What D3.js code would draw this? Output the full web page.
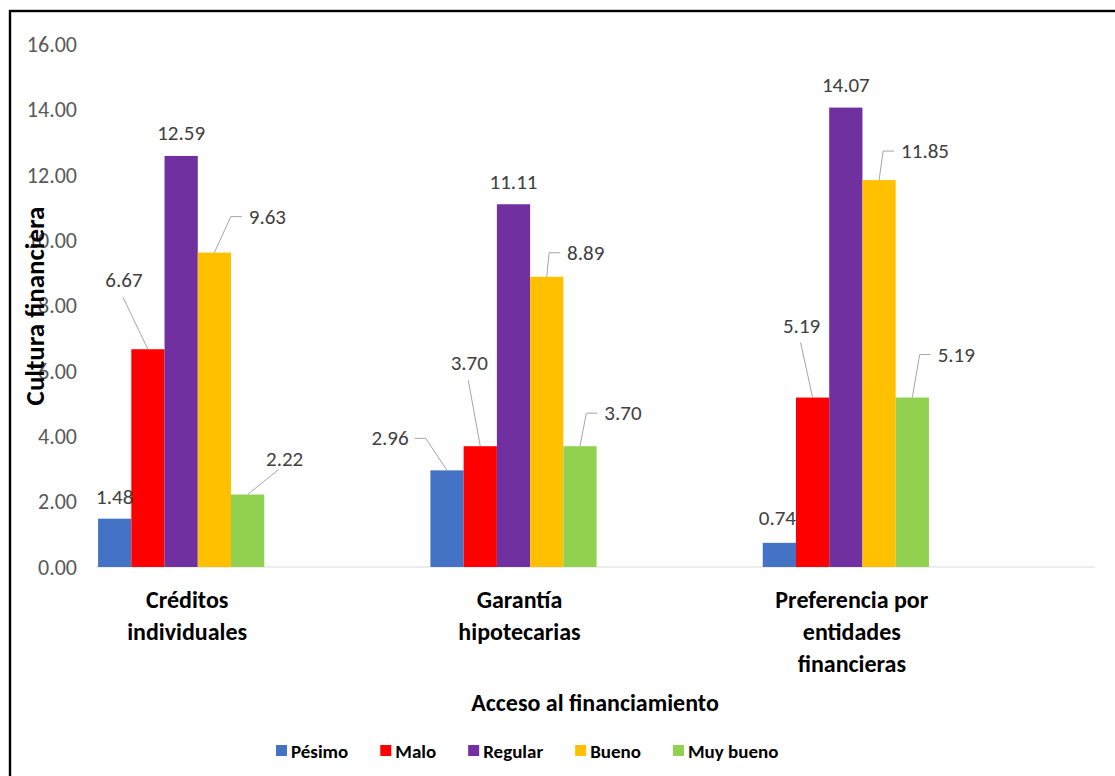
<!DOCTYPE html>
<html>
<head>
<meta charset="utf-8">
<script src="https://cdn.jsdelivr.net/npm/d3@7"></script>
<style>
  html, body { margin: 0; padding: 0; background: #fff; }
  svg { display: block; }
  text { font-family: Carlito, Calibri, "Open Sans", "Noto Sans", sans-serif; }
</style>
</head>
<body>
<svg id="chart" width="1115" height="776"></svg>
<script>
// ---- data ----
const categories = [["Créditos", "individuales"], ["Garantía", "hipotecarias"], ["Preferencia por", "entidades", "financieras"]];
const seriesNames = ["Pésimo", "Malo", "Regular", "Bueno", "Muy bueno"];
const pesimo   = [1.48, 2.96, 0.74];
const malo     = [6.67, 3.70, 5.19];
const regular  = [12.59, 11.11, 14.07];
const bueno    = [9.63, 8.89, 11.85];
const muyBueno = [2.22, 3.70, 5.19];
const yTicks = [0, 2, 4, 6, 8, 10, 12, 14, 16];
const yTitle = "Cultura financiera";
const xTitle = "Acceso al financiamiento";

// ---- style ----
const colors = ["#4472C4", "#FF0000", "#7030A0", "#FFC000", "#92D050"];
// label placement per [category][series]: dx, dy from bar-top centre, leader type
const labelLayout = [
  [{dx:0,dy:-22,t:"none"},{dx:-24,dy:-69,t:"down"},{dx:0,dy:-23,t:"none"},{dx:53,dy:-36,t:"elbowL"},{dx:37,dy:-36,t:"diag"}],
  [{dx:-57,dy:-32,t:"elbowR"},{dx:-11,dy:-83,t:"down"},{dx:0,dy:-22,t:"none"},{dx:39,dy:-24,t:"elbowL"},{dx:43,dy:-33,t:"elbowL"}],
  [{dx:-2,dy:-25,t:"none"},{dx:-11,dy:-72,t:"down"},{dx:0,dy:-23,t:"none"},{dx:46,dy:-29,t:"elbowL"},{dx:44,dy:-43,t:"elbowL"}]
];

const allSeries = [pesimo, malo, regular, bueno, muyBueno];
const catKeys = categories.map(c => c.join(" "));

const svg = d3.select("#chart");

// outer frame
svg.append("rect").attr("x", 10).attr("y", 11).attr("width", 1120).attr("height", 790)
  .attr("fill", "none").attr("stroke", "#000").attr("stroke-width", 2.4);

const y = d3.scaleLinear().domain([0, 16]).range([567, 44.6]);
const x0 = d3.scaleBand().domain(catKeys).range([15, 1012]).paddingInner(0.5).paddingOuter(0.25);
const x1 = d3.scaleBand().domain(seriesNames).range([0, x0.bandwidth()]);

// y axis
const yAxis = svg.append("g").attr("transform", "translate(96,0)")
  .call(d3.axisLeft(y).tickValues(yTicks).tickFormat(d3.format(".2f")).tickSize(0).tickPadding(19));
yAxis.select(".domain").remove();
yAxis.selectAll("text").attr("fill", "#595959").style("font-size", "22px");

// x axis line
svg.append("line").attr("x1", 96).attr("x2", 1095).attr("y1", y(0)).attr("y2", y(0))
  .attr("stroke", "#d9d9d9").attr("stroke-width", 1.2);

// bars
const groups = svg.append("g").selectAll("g").data(catKeys).join("g")
  .attr("transform", d => `translate(${x0(d)},0)`);
groups.selectAll("rect")
  .data((d, ci) => seriesNames.map((s, si) => ({s, si, ci, v: allSeries[si][ci]})))
  .join("rect")
  .attr("x", d => x1(d.s)).attr("width", x1.bandwidth())
  .attr("y", d => y(d.v)).attr("height", d => y(0) - y(d.v))
  .attr("fill", d => colors[d.si]);

// data labels + leader lines
const lblG = svg.append("g");
catKeys.forEach((c, ci) => {
  seriesNames.forEach((s, si) => {
    const v = allSeries[si][ci];
    const bx = x0(c) + x1(s) + x1.bandwidth() / 2;
    const by = y(v);
    const L = labelLayout[ci][si];
    const tx = bx + L.dx, ty = by + L.dy;
    const t = lblG.append("text").attr("x", tx).attr("y", ty).attr("text-anchor", "middle")
      .attr("dominant-baseline", "central").attr("fill", "#404040").style("font-size", "21px")
      .text(d3.format(".2f")(v));
    const w = t.node().getComputedTextLength();
    let pts = null;
    if (L.t === "down") pts = [[tx - 1, ty + 17], [bx, by]];
    else if (L.t === "diag") pts = [[tx - 6, ty + 11], [bx, by]];
    else if (L.t === "elbowL") pts = [[tx - w / 2 - 7, ty], [tx - w / 2 - 18, ty], [bx, by]];
    else if (L.t === "elbowR") pts = [[tx + w / 2 + 6, ty], [tx + w / 2 + 17, ty], [bx, by]];
    if (pts) lblG.append("path").attr("d", d3.line()(pts)).attr("fill", "none")
      .attr("stroke", "#a6a6a6").attr("stroke-width", 1);
  });
});

// category labels
catKeys.forEach((c, ci) => {
  const cx = x0(c) + x0.bandwidth() / 2 + 6;
  const t = svg.append("text").attr("x", cx).attr("y", 608).attr("text-anchor", "middle")
    .attr("fill", "#000").style("font-size", "24px").style("font-weight", "bold");
  categories[ci].forEach((line, li) => {
    t.append("tspan").attr("x", cx).attr("dy", li === 0 ? 0 : 32).text(line);
  });
});

// axis titles
svg.append("text").attr("x", 595).attr("y", 711).attr("text-anchor", "middle")
  .style("font-size", "24px").style("font-weight", "bold").attr("fill", "#000").text(xTitle);
svg.append("text").attr("transform", "translate(44,306) rotate(-90)").attr("text-anchor", "middle")
  .style("font-size", "27px").style("font-weight", "bold").attr("fill", "#000").text(yTitle);

// legend
const leg = svg.append("g").attr("transform", "translate(276,751)");
let lx = 0;
seriesNames.forEach((s, si) => {
  leg.append("rect").attr("x", lx).attr("y", -6).attr("width", 11).attr("height", 11).attr("fill", colors[si]);
  const t = leg.append("text").attr("x", lx + 15).attr("y", 0).attr("dominant-baseline", "central")
    .style("font-size", "19px").style("font-weight", "bold").attr("fill", "#000").text(s);
  lx += 15 + t.node().getComputedTextLength() + 32;
});
</script>
</body>
</html>
